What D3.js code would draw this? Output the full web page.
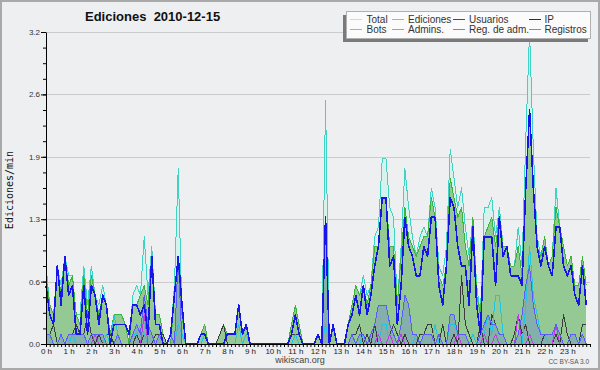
<!DOCTYPE html>
<html>
<head>
<meta charset="utf-8">
<script src="https://cdnjs.cloudflare.com/ajax/libs/d3/7.8.5/d3.min.js"></script>
<style>
  html, body { margin: 0; padding: 0; background: #fff; }
  svg text { font-family: "Liberation Sans", Arial, sans-serif; }
</style>
</head>
<body>
<svg id="chart" width="600" height="370"></svg>
<script>
// edits per minute, one value per 10 minute slot (6 per hour, 2 hours per row)
var total = [
  0.8,0.4,0.3,0.8,0.6,0.9,0.7,0.7,0.3,0.3,0.8,0.4,   // 0h-1h
  0.8,0.5,0.4,0.6,0.4,0.1,0.3,0.3,0.3,0.2,0.0,0.5,   // 2h-3h
  0.6,0.5,1.1,0.5,1.0,0.3,0.3,0.1,0.0,0.1,0.6,1.8,   // 4h-5h
  0.3,0.0,0.0,0.0,0.0,0.1,0.2,0.0,0.0,0.0,0.1,0.2,   // 6h-7h
  0.1,0.1,0.1,0.4,0.1,0.2,0.0,0.0,0.0,0.0,0.0,0.0,   // 8h-9h
  0.0,0.0,0.0,0.0,0.0,0.2,0.4,0.2,0.0,0.0,0.0,0.0,   // 10h-11h
  0.1,0.0,2.5,0.0,0.2,0.0,0.0,0.0,0.2,0.4,0.6,0.5,   // 12h-13h
  0.7,0.5,0.6,1.1,1.2,1.9,1.9,1.4,1.3,0.4,1.0,1.8,   // 14h-15h
  1.4,1.1,0.9,1.1,1.2,1.1,1.6,1.4,0.8,0.7,1.0,2.0,   // 16h-17h
  1.7,1.4,1.6,1.2,0.9,1.3,0.6,0.3,1.4,1.4,1.5,1.1,   // 18h-19h
  1.4,1.0,1.0,0.8,0.8,1.2,0.8,2.1,3.2,2.0,1.1,0.9,   // 20h-21h
  1.0,0.8,0.9,1.6,1.2,1.0,0.8,0.9,0.6,0.6,0.9,0.6    // 22h-23h
];
var ediciones = [
  0.7,0.4,0.3,0.8,0.5,0.9,0.6,0.7,0.3,0.2,0.7,0.3,
  0.7,0.5,0.3,0.5,0.4,0.1,0.3,0.3,0.3,0.2,0.0,0.4,
  0.4,0.5,0.6,0.4,0.9,0.3,0.3,0.1,0.0,0.0,0.5,0.9,
  0.3,0.0,0.0,0.0,0.0,0.1,0.2,0.0,0.0,0.0,0.1,0.2,
  0.1,0.1,0.1,0.4,0.1,0.2,0.0,0.0,0.0,0.0,0.0,0.0,
  0.0,0.0,0.0,0.0,0.0,0.2,0.4,0.2,0.0,0.0,0.0,0.0,
  0.1,0.0,1.3,0.0,0.2,0.0,0.0,0.0,0.2,0.4,0.6,0.5,
  0.6,0.4,0.6,1.0,1.0,1.5,1.5,1.0,1.0,0.4,0.9,1.4,
  1.1,1.0,0.9,1.0,1.1,1.1,1.5,1.3,0.7,0.6,0.8,1.7,
  1.5,1.3,1.4,1.0,0.8,1.3,0.5,0.3,1.1,1.2,1.3,1.0,
  1.3,1.0,1.0,0.8,0.8,1.0,0.7,1.6,2.4,1.6,1.0,0.9,
  1.1,0.8,0.9,1.4,1.2,1.0,0.8,0.9,0.6,0.6,0.9,0.6
];
var usuarios = [
  0.6,0.3,0.2,0.8,0.4,0.9,0.5,0.6,0.1,0.1,0.6,0.1,
  0.6,0.5,0.2,0.5,0.4,0.0,0.2,0.2,0.2,0.2,0.1,0.4,
  0.4,0.3,0.4,0.1,0.9,0.2,0.2,0.0,0.0,0.1,0.5,0.9,
  0.4,0.0,0.0,0.0,0.0,0.1,0.1,0.0,0.0,0.0,0.0,0.0,
  0.1,0.1,0.1,0.4,0.1,0.2,0.0,0.0,0.0,0.0,0.0,0.0,
  0.0,0.0,0.0,0.0,0.0,0.1,0.3,0.1,0.0,0.0,0.0,0.0,
  0.1,0.0,1.3,0.0,0.2,0.0,0.0,0.0,0.2,0.3,0.5,0.3,
  0.6,0.3,0.5,0.8,1.0,1.5,1.5,0.8,0.9,0.2,0.6,1.3,
  1.0,0.9,0.7,0.7,1.0,0.9,1.3,1.3,0.6,0.4,0.8,1.5,
  1.4,1.0,0.8,0.8,0.4,1.2,0.4,0.1,1.1,1.1,1.1,0.6,
  1.3,0.9,1.0,0.7,0.7,0.7,0.6,1.6,2.4,1.6,1.0,0.8,
  1.0,0.8,0.7,1.2,1.2,0.8,0.7,0.8,0.5,0.4,0.8,0.4
];
var ip = [
  0.1,0.1,0.2,0.0,0.1,0.0,0.1,0.1,0.2,0.1,0.1,0.3,
  0.1,0.0,0.1,0.0,0.1,0.1,0.0,0.1,0.0,0.0,0.0,0.0,
  0.1,0.0,0.1,0.0,0.0,0.1,0.1,0.1,0.0,0.0,0.0,0.0,
  0.0,0.0,0.0,0.0,0.0,0.0,0.1,0.0,0.0,0.0,0.1,0.2,
  0.0,0.0,0.0,0.0,0.0,0.0,0.0,0.0,0.0,0.0,0.0,0.0,
  0.0,0.0,0.0,0.0,0.0,0.1,0.1,0.1,0.0,0.0,0.0,0.0,
  0.0,0.0,0.0,0.0,0.0,0.0,0.0,0.0,0.0,0.1,0.1,0.2,
  0.0,0.1,0.0,0.2,0.0,0.0,0.0,0.1,0.2,0.1,0.0,0.1,
  0.0,0.0,0.0,0.1,0.1,0.2,0.2,0.0,0.0,0.2,0.0,0.0,
  0.1,0.0,0.7,0.2,0.1,0.0,0.0,0.2,0.0,0.0,0.3,0.2,
  0.1,0.1,0.0,0.0,0.1,0.3,0.1,0.2,0.0,0.0,0.0,0.0,
  0.1,0.0,0.0,0.1,0.0,0.3,0.1,0.0,0.0,0.0,0.2,0.2
];
var bots = [
  0,0,0,0,0,0,0,0,0,0,0,0,
  0,0,0,0,0,0,0,0,0,0,0,0,
  0,0,0,0,0,0,0,0,0,0,0,0,
  0,0,0,0,0,0,0,0,0,0,0,0,
  0,0,0,0,0,0,0,0,0,0,0,0,
  0,0,0,0,0,0,0,0,0,0,0,0,
  0,0,0,0,0,0,0,0,0,0,0,0,
  0,0,0,0,0,0,0,0,0,0,0,0,
  0,0,0,0,0,0,0,0,0,0,0,0,
  0,0,0,0,0,0,0,0,0,0,0,0,
  0,0,0,0,0,0,0,0,0,0,0,0,
  0,0,0,0,0,0,0,0,0,0,0,0
];
var admins = [
  0,0,0,0,0,0,0,0.1,0,0,0,0,
  0,0,0,0,0.1,0,0.3,0.1,0,0,0,0.1,
  0.1,0.2,0.1,0,0,0,0,0,0,0,0,0.2,
  0.1,0,0,0,0,0,0.1,0,0,0,0,0,
  0,0,0,0.2,0,0.1,0,0,0,0,0,0,
  0,0,0,0,0,0,0.1,0,0,0,0,0,
  0,0,0.2,0,0,0,0,0,0,0,0,0,
  0.1,0,0,0,0,0.2,0.2,0,0,0,0,0,
  0,0,0.1,0,0,0,0,0.2,0,0,0,0.2,
  0.2,0.1,0,0,0,0.1,0,0,0.1,0.3,0.1,0.5,
  0.5,0.1,0,0,0,0,0,0.4,1.0,0.5,0.3,0.1,
  0.1,0,0,0,0,0,0,0,0,0,0,0
];
var regAdm = [
  0,0,0,0,0,0,0,0,0,0,0,0,
  0,0.1,0,0,0,0,0,0,0,0,0,0,
  0,0,0.3,0,0,0,0,0,0,0,0,0,
  0,0,0,0,0,0,0,0,0,0,0,0,
  0,0,0,0,0,0,0,0,0,0,0,0,
  0,0,0,0,0,0,0,0,0,0,0,0,
  0,0,0,0,0,0,0,0,0,0,0,0,
  0,0,0,0,0.1,0,0,0.1,0,0,0.1,0,
  0,0,0,0,0,0,0,0,0,0,0,0,
  0,0.1,0,0,0,0,0,0,0.1,0,0,0.1,
  0,0,0,0,0,0.3,0,0,0.1,0,0,0,
  0,0,0,0.2,0,0,0,0,0,0,0,0
];
var registros = [
  0.1,0.1,0.0,0.0,0.1,0.0,0.1,0.1,0.1,0.1,0.1,0.0,
  0.1,0.1,0.1,0.1,0.0,0.0,0.0,0.1,0.0,0.0,0.0,0.1,
  0.2,0.1,0.5,0.2,0.1,0.0,0.1,0.0,0.0,0.1,0.0,0.9,
  0.0,0.0,0.0,0.0,0.0,0.0,0.0,0.0,0.0,0.0,0.0,0.0,
  0.0,0.0,0.0,0.0,0.0,0.0,0.0,0.0,0.0,0.0,0.0,0.0,
  0.0,0.0,0.0,0.0,0.0,0.0,0.0,0.0,0.0,0.0,0.0,0.0,
  0.0,0.0,1.2,0.0,0.0,0.0,0.0,0.0,0.0,0.1,0.0,0.1,
  0.1,0.0,0.1,0.2,0.4,0.4,0.4,0.2,0.1,0.0,0.2,0.5,
  0.4,0.1,0.1,0.0,0.1,0.1,0.1,0.0,0.1,0.0,0.0,0.3,
  0.3,0.1,0.1,0.1,0.0,0.0,0.0,0.1,0.2,0.3,0.2,0.2,
  0.1,0.1,0.0,0.0,0.0,0.1,0.3,0.6,0.8,0.4,0.2,0.1,
  0.1,0.1,0.1,0.2,0.1,0.0,0.0,0.1,0.1,0.0,0.1,0.0
];

var legendNames = ['Total', 'Ediciones', 'Usuarios', 'IP', 'Bots', 'Admins.', 'Reg. de adm.', 'Registros'];
var legendColors = ['#b2e6e4', '#82d082', '#3a3ae0', '#303030', '#f0a040', '#40c8e0', '#d050e0', '#8080ff'];

var svg = d3.select('#chart');
var W = 600, H = 370,
    x0 = 46, x1 = 590, yTop = 32, yBot = 344;

// background + frame
svg.append('rect')
  .attr('x', 1).attr('y', 1).attr('width', W - 2).attr('height', H - 2)
  .attr('fill', '#eeeff1').attr('stroke', '#a9a9a9').attr('stroke-width', 2);

var x = d3.scaleLinear().domain([0, 1440]).range([x0, x1]);
var yMax = d3.max(total);
var y = d3.scaleLinear().domain([0, yMax]).range([yBot, yTop]);
var px = function(d, i) { return x(i * 10); };

var yMajor = d3.range(6).map(function(k) { return yMax * k / 5; });
var yMinor = d3.range(21).map(function(k) { return yMax * k / 20; });

// grid
svg.append('g').attr('class', 'grid')
  .selectAll('line').data(yMajor.slice(1)).enter()
  .append('line')
  .attr('x1', x0).attr('x2', x1)
  .attr('y1', function(d) { return Math.round(y(d)) + 0.5; })
  .attr('y2', function(d) { return Math.round(y(d)) + 0.5; })
  .attr('stroke', '#cbcbcb');

var area = function(data) {
  return d3.area().x(px).y0(yBot).y1(function(d) { return y(d); })(data);
};
var line = function(data) {
  return d3.line().x(px).y(function(d) { return y(d); })(data);
};

// the original is drawn without antialiasing
var plot = svg.append('g').attr('class', 'plot').attr('shape-rendering', 'crispEdges');

// filled layers
plot.append('path').attr('d', area(total)).attr('fill', '#d7f2ed');
plot.append('path').attr('d', area(ediciones)).attr('fill', '#94c994');
plot.append('path').attr('d', area(registros)).attr('fill', 'rgba(80,80,255,0.22)');

// lines, back to front
var lines = [
  {data: total, color: '#3fd3c4', w: 1},
  {data: ediciones, color: '#3cb43c', w: 1},
  {data: bots, color: '#f0a040', w: 1},
  {data: ip, color: '#3c3c3c', w: 1},
  {data: admins, color: '#22c4e0', w: 1},
  {data: regAdm, color: '#c03ce0', w: 1},
  {data: registros, color: '#5a5aff', w: 1},
  {data: usuarios, color: '#1616e8', w: 1.6}
];
lines.forEach(function(l) {
  plot.append('path')
    .attr('d', line(l.data))
    .attr('fill', 'none')
    .attr('stroke', l.color)
    .attr('stroke-width', l.w)
    .attr('stroke-linejoin', 'round');
});

// y axis
var yAxisMinor = svg.append('g')
  .attr('transform', 'translate(' + x0 + ',0)')
  .call(d3.axisLeft(y).tickValues(yMinor).tickSize(3).tickSizeOuter(0).tickFormat(''));
yAxisMinor.select('.domain').remove();

var yAxis = svg.append('g')
  .attr('transform', 'translate(' + x0 + ',0)')
  .call(d3.axisLeft(y).tickValues(yMajor).tickSize(5).tickSizeOuter(0).tickPadding(1)
    .tickFormat(d3.format('.1f')));
yAxis.selectAll('text')
  .attr('font-family', '"Liberation Sans", Arial, sans-serif')
  .attr('font-size', 8).attr('fill', '#333');

// x axis, a tick every 10 minutes, labels on the hours
var xAxis = svg.append('g')
  .attr('transform', 'translate(0,' + yBot + ')')
  .call(d3.axisBottom(x).tickValues(d3.range(0, 1441, 10)).tickSize(3).tickSizeOuter(0).tickPadding(1)
    .tickFormat(function(d) { return (d % 60 === 0 && d < 1440) ? (d / 60) + ' h' : ''; }));
xAxis.selectAll('text')
  .attr('font-family', '"Liberation Sans", Arial, sans-serif')
  .attr('font-size', 8).attr('fill', '#222');

// title + labels
svg.append('text')
  .attr('x', 85).attr('y', 21)
  .attr('font-size', 13).attr('font-weight', 'bold').attr('fill', '#111')
  .style('white-space', 'pre')
  .text('Ediciones  2010-12-15');

svg.append('text')
  .attr('transform', 'translate(13,' + ((yTop + yBot) / 2 + 2) + ') rotate(-90)')
  .attr('text-anchor', 'middle')
  .style('font-family', '"DejaVu Sans Mono", monospace')
  .attr('font-size', 10).attr('fill', '#111')
  .text('Ediciones/min');

svg.append('text')
  .attr('x', 300).attr('y', 363).attr('text-anchor', 'middle')
  .attr('font-size', 9).attr('fill', '#444')
  .text('wikiscan.org');

svg.append('text')
  .attr('x', 589).attr('y', 364).attr('text-anchor', 'end')
  .attr('font-size', 6.5).attr('fill', '#555')
  .text('CC BY-SA 3.0');

// legend
var lg = svg.append('g').attr('class', 'legend');
lg.append('rect').attr('x', 343).attr('y', 15).attr('width', 245).attr('height', 27).attr('fill', '#7a7a7a');
lg.append('rect').attr('x', 346.5).attr('y', 11.5).attr('width', 244).attr('height', 27)
  .attr('fill', '#fbfbfb').attr('stroke', '#b0b0b0');

var colSwatch = [350, 392, 453, 529],
    colText = [366.5, 408, 469, 544.5],
    rowY = [19, 29];

var items = lg.selectAll('g.item')
  .data(legendNames)
  .enter().append('g').attr('class', 'item');
items.append('line')
  .attr('x1', function(d, i) { return colSwatch[i % 4]; })
  .attr('x2', function(d, i) { return colSwatch[i % 4] + 12; })
  .attr('y1', function(d, i) { return rowY[Math.floor(i / 4)] + 0.5; })
  .attr('y2', function(d, i) { return rowY[Math.floor(i / 4)] + 0.5; })
  .attr('stroke', function(d, i) { return legendColors[i]; });
items.append('text')
  .attr('x', function(d, i) { return colText[i % 4]; })
  .attr('y', function(d, i) { return rowY[Math.floor(i / 4)] + 3.5; })
  .attr('font-size', 10).attr('fill', '#333')
  .text(function(d) { return d; });
</script>
</body>
</html>
